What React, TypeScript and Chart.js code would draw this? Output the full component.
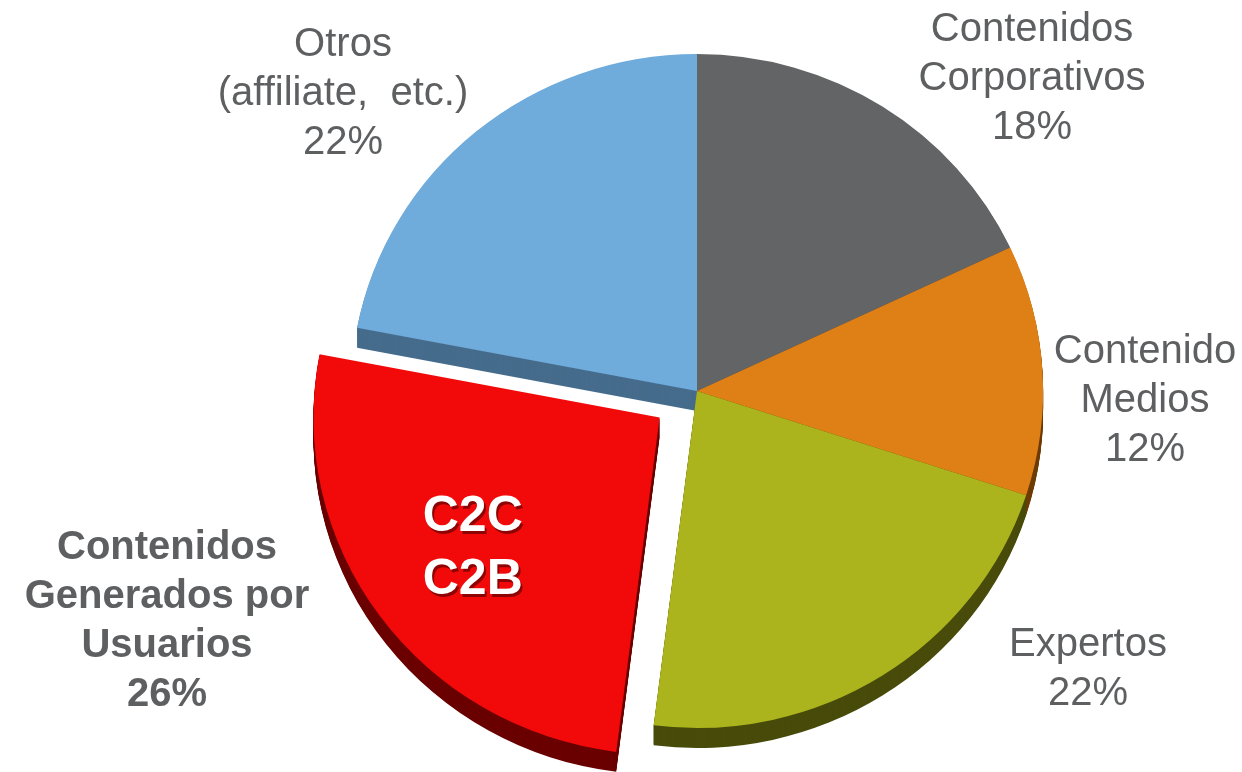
import React, { useEffect, useRef } from "react";
import { Chart, registerables } from "chart.js";

Chart.register(...registerables);

const categories = [
  "Contenidos Corporativos",
  "Contenido Medios",
  "Expertos",
  "Contenidos Generados por Usuarios",
  "Otros (affiliate, etc.)",
];
const values = [18, 12, 22, 26, 22];
const labelLines = [
  ["Contenidos", "Corporativos", "18%"],
  ["Contenido", "Medios", "12%"],
  ["Expertos", "22%"],
  ["Contenidos", "Generados por", "Usuarios", "26%"],
  ["Otros", "(affiliate,  etc.)", "22%"],
];
const innerLines = ["C2C", "C2B"];

const topColors = ["#636466", "#DF8016", "#ABB41C", "#F20A0A", "#6FABDB"];
const sideColors = ["#3E3F40", "#6E3C05", "#484B0A", "#6A0000", "#466C8C"];
// Chart.js 4 draws arcs translated by offset/4 (plus a small fix term)
const offsets = [0, 0, 0, 180, 0];
const labelBold = [false, false, false, true, false];
const labelPos = [
  [1032, 30],
  [1145, 352],
  [1088, 645],
  [167, 548],
  [343, 45],
];
const DEPTH = 20;
const SCALE_X = 1.027;

function arcGeom(arc: any) {
  const { x, y, startAngle, endAngle, outerRadius, circumference } = arc.getProps(
    ["x", "y", "startAngle", "endAngle", "outerRadius", "circumference"],
    true
  );
  const off = (arc.options.offset || 0) / 4;
  const fix = 1 - Math.sin(Math.min(Math.PI, circumference || 0));
  const eff = off + off * fix;
  const mid = (startAngle + endAngle) / 2;
  return {
    x,
    y,
    cx: x + Math.cos(mid) * eff,
    cy: y + Math.sin(mid) * eff,
    startAngle,
    endAngle,
    outerRadius,
    mid,
  };
}

const depthPlugin = {
  id: "depth3d",
  beforeDatasetsDraw(chart: any) {
    const meta = chart.getDatasetMeta(0);
    const ctx = chart.ctx;
    const first = meta.data[0];
    const ox = first.x;
    const oy = first.y;
    ctx.save();
    ctx.translate(ox, oy);
    ctx.scale(SCALE_X, 1);
    ctx.translate(-ox, -oy);
    meta.data.forEach((arc: any, i: number) => {
      const { cx, cy, startAngle, endAngle, outerRadius } = arcGeom(arc);
      ctx.fillStyle = sideColors[i];
      for (let d = DEPTH; d >= 1; d--) {
        ctx.beginPath();
        ctx.moveTo(cx, cy + d);
        ctx.arc(cx, cy + d, outerRadius, startAngle, endAngle);
        ctx.closePath();
        ctx.fill();
      }
    });
  },
  afterDatasetsDraw(chart: any) {
    chart.ctx.restore();
  },
};

const textPlugin = {
  id: "labels",
  afterDatasetsDraw(chart: any) {
    const ctx = chart.ctx;
    ctx.save();
    ctx.textAlign = "center";
    ctx.textBaseline = "middle";
    labelLines.forEach((lines, i) => {
      ctx.font = `${labelBold[i] ? "bold " : ""}40px "Liberation Sans", Arial, sans-serif`;
      ctx.fillStyle = "#5E5F61";
      const [lx, ly] = labelPos[i];
      lines.forEach((t, j) => ctx.fillText(t, lx, ly + j * 49));
    });
    // inner label on exploded slice
    const meta = chart.getDatasetMeta(0);
    const g = arcGeom(meta.data[3]);
    const r = g.outerRadius * 0.66;
    const rawX = g.cx + Math.cos(g.mid) * r;
    const tx = g.x + (rawX - g.x) * SCALE_X - 2;
    const ty = g.cy + Math.sin(g.mid) * r;
    ctx.font = 'bold 50px "Liberation Sans", Arial, sans-serif';
    innerLines.forEach((t, j) => {
      const yy = ty - 31 + j * 63;
      ctx.fillStyle = "rgba(60,0,0,0.55)";
      ctx.fillText(t, tx + 2, yy + 3);
      ctx.fillStyle = "#FFFFFF";
      ctx.fillText(t, tx, yy);
    });
    ctx.restore();
  },
};

export default function App() {
  const ref = useRef<HTMLCanvasElement>(null);
  useEffect(() => {
    if (!ref.current) return;
    const chart = new Chart(ref.current, {
      type: "pie",
      data: {
        labels: categories,
        datasets: [
          {
            data: values,
            backgroundColor: topColors,
            borderWidth: 0,
            offset: offsets,
            radius: 337,
          } as any,
        ],
      },
      options: {
        responsive: false,
        animation: false,
        layout: { padding: { left: 152, right: 0, top: 10, bottom: 0 } },
        plugins: {
          legend: { display: false },
          tooltip: { enabled: false },
        },
      },
      plugins: [depthPlugin, textPlugin],
    });
    return () => chart.destroy();
  }, []);
  return (
    <div style={{ position: "absolute", left: 0, top: 0, width: 1242, height: 772, background: "#fff" }}>
      <canvas ref={ref} width={1242} height={772} style={{ width: 1242, height: 772 }} />
    </div>
  );
}
